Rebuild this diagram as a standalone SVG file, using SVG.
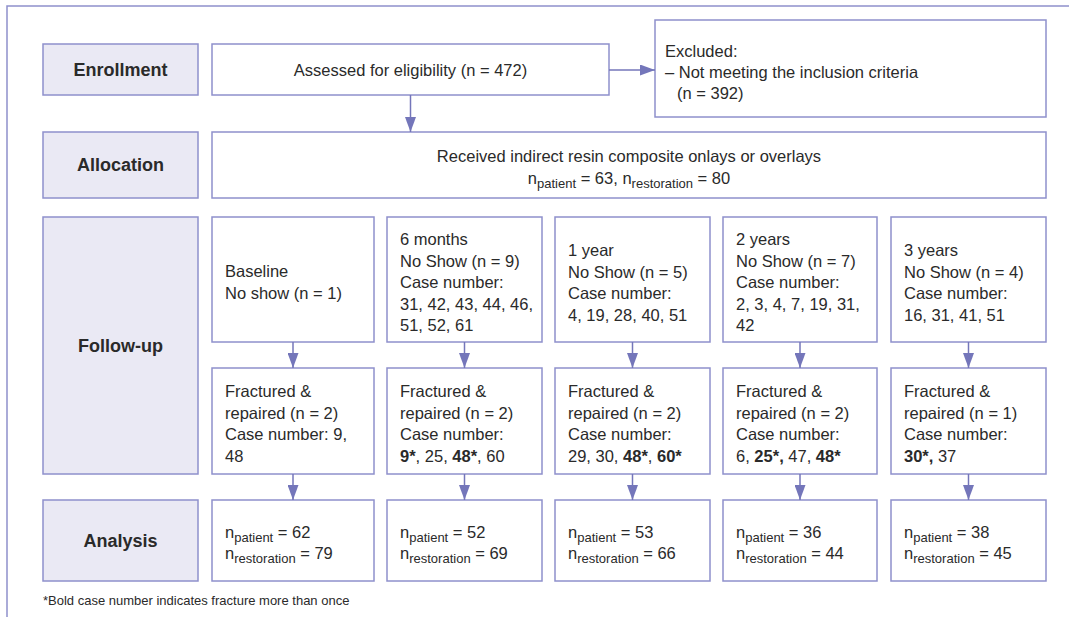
<svg xmlns="http://www.w3.org/2000/svg" width="1069" height="617" viewBox="0 0 1069 617">
<defs>
<style>
.frame{fill:none;stroke:#8e90cc;stroke-width:1.5}
.lab{fill:#eae9f4;stroke:#8e90cc;stroke-width:1.5}
.box{fill:#ffffff;stroke:#8e90cc;stroke-width:1.5}
.labt{font-family:"Liberation Sans",Arial,sans-serif;font-size:18px;font-weight:700;fill:#2a2a2a;text-anchor:middle}
.t{font-family:"Liberation Sans",Arial,sans-serif;font-size:16.5px;fill:#2a2a2a}
.c{text-anchor:middle}
.b{font-weight:700}
.sub{font-size:13px}
.foot{font-family:"Liberation Sans",Arial,sans-serif;font-size:13px;fill:#2a2a2a}
.conn{stroke:#7476ba;stroke-width:1.5;fill:none;marker-end:url(#ah)}
</style>
<marker id="ah" markerUnits="userSpaceOnUse" markerWidth="15" markerHeight="11" refX="15" refY="5.5" orient="auto">
<path d="M0,0 L15,5.5 L0,11 z" fill="#7476ba"/>
</marker>
</defs>
<rect width="1069" height="617" fill="#ffffff"/>
<path class="frame" d="M7,617 L7,6 L1069,6"/>

<g id="lab-enrollment"><rect class="lab" x="43" y="44" width="155" height="51"/><text class="labt" x="120.5" y="76">Enrollment</text></g>
<g id="lab-allocation"><rect class="lab" x="43" y="132" width="155" height="66"/><text class="labt" x="120.5" y="171">Allocation</text></g>
<g id="lab-followup"><rect class="lab" x="43" y="217" width="155" height="257"/><text class="labt" x="120.5" y="352">Follow-up</text></g>
<g id="lab-analysis"><rect class="lab" x="43" y="500" width="155" height="81"/><text class="labt" x="120.5" y="547">Analysis</text></g>

<g id="assessed"><rect class="box" x="212" y="44" width="397" height="51"/><text class="t c" x="410.5" y="76">Assessed for eligibility (n = 472)</text></g>
<g id="excluded"><rect class="box" x="655" y="20" width="391" height="97"/>
<text class="t" x="665" y="57">Excluded:</text>
<text class="t" x="665" y="78">– Not meeting the inclusion criteria</text>
<text class="t" x="677" y="99">(n = 392)</text></g>
<g id="allocation"><rect class="box" x="212" y="132" width="834" height="66"/>
<text class="t c" x="629" y="162">Received indirect resin composite onlays or overlays</text>
<text class="t c" x="629" y="184">n<tspan class="sub" dy="4">patient</tspan><tspan dy="-4"> = 63, n</tspan><tspan class="sub" dy="4">restoration</tspan><tspan dy="-4"> = 80</tspan></text></g>

<g id="fu-baseline"><rect class="box" x="212" y="217" width="162" height="125"/>
<text class="t" x="225" y="277">Baseline</text><text class="t" x="225" y="298.5">No show (n = 1)</text></g>
<g id="fu-6m"><rect class="box" x="387" y="217" width="155" height="125"/>
<text class="t" x="400" y="245">6 months</text><text class="t" x="400" y="266.5">No Show (n = 9)</text><text class="t" x="400" y="288">Case number:</text><text class="t" x="400" y="309.5">31, 42, 43, 44, 46,</text><text class="t" x="400" y="331">51, 52, 61</text></g>
<g id="fu-1y"><rect class="box" x="555" y="217" width="155" height="125"/>
<text class="t" x="568" y="256">1 year</text><text class="t" x="568" y="277.5">No Show (n = 5)</text><text class="t" x="568" y="299">Case number:</text><text class="t" x="568" y="320.5">4, 19, 28, 40, 51</text></g>
<g id="fu-2y"><rect class="box" x="723" y="217" width="154" height="125"/>
<text class="t" x="736" y="245">2 years</text><text class="t" x="736" y="266.5">No Show (n = 7)</text><text class="t" x="736" y="288">Case number:</text><text class="t" x="736" y="309.5">2, 3, 4, 7, 19, 31,</text><text class="t" x="736" y="331">42</text></g>
<g id="fu-3y"><rect class="box" x="891" y="217" width="155" height="125"/>
<text class="t" x="904" y="256">3 years</text><text class="t" x="904" y="277.5">No Show (n = 4)</text><text class="t" x="904" y="299">Case number:</text><text class="t" x="904" y="320.5">16, 31, 41, 51</text></g>

<g id="fr-baseline"><rect class="box" x="212" y="368" width="162" height="106"/>
<text class="t" x="225" y="397">Fractured &amp;</text><text class="t" x="225" y="418.5">repaired (n = 2)</text><text class="t" x="225" y="440">Case number: 9,</text><text class="t" x="225" y="461.5">48</text></g>
<g id="fr-6m"><rect class="box" x="387" y="368" width="155" height="106"/>
<text class="t" x="400" y="397">Fractured &amp;</text><text class="t" x="400" y="418.5">repaired (n = 2)</text><text class="t" x="400" y="440">Case number:</text><text class="t" x="400" y="461.5"><tspan class="b">9*</tspan>, 25, <tspan class="b">48*</tspan>, 60</text></g>
<g id="fr-1y"><rect class="box" x="555" y="368" width="155" height="106"/>
<text class="t" x="568" y="397">Fractured &amp;</text><text class="t" x="568" y="418.5">repaired (n = 2)</text><text class="t" x="568" y="440">Case number:</text><text class="t" x="568" y="461.5">29, 30, <tspan class="b">48*</tspan>, <tspan class="b">60*</tspan></text></g>
<g id="fr-2y"><rect class="box" x="723" y="368" width="154" height="106"/>
<text class="t" x="736" y="397">Fractured &amp;</text><text class="t" x="736" y="418.5">repaired (n = 2)</text><text class="t" x="736" y="440">Case number:</text><text class="t" x="736" y="461.5">6, <tspan class="b">25*,</tspan> 47, <tspan class="b">48*</tspan></text></g>
<g id="fr-3y"><rect class="box" x="891" y="368" width="155" height="106"/>
<text class="t" x="904" y="397">Fractured &amp;</text><text class="t" x="904" y="418.5">repaired (n = 1)</text><text class="t" x="904" y="440">Case number:</text><text class="t" x="904" y="461.5"><tspan class="b">30*,</tspan> 37</text></g>

<g id="an-baseline"><rect class="box" x="212" y="500" width="162" height="81"/>
<text class="t" x="225" y="537.5">n<tspan class="sub" dy="4">patient</tspan><tspan dy="-4"> = 62</tspan></text><text class="t" x="225" y="558.5">n<tspan class="sub" dy="4">restoration</tspan><tspan dy="-4"> = 79</tspan></text></g>
<g id="an-6m"><rect class="box" x="387" y="500" width="155" height="81"/>
<text class="t" x="400" y="537.5">n<tspan class="sub" dy="4">patient</tspan><tspan dy="-4"> = 52</tspan></text><text class="t" x="400" y="558.5">n<tspan class="sub" dy="4">restoration</tspan><tspan dy="-4"> = 69</tspan></text></g>
<g id="an-1y"><rect class="box" x="555" y="500" width="155" height="81"/>
<text class="t" x="568" y="537.5">n<tspan class="sub" dy="4">patient</tspan><tspan dy="-4"> = 53</tspan></text><text class="t" x="568" y="558.5">n<tspan class="sub" dy="4">restoration</tspan><tspan dy="-4"> = 66</tspan></text></g>
<g id="an-2y"><rect class="box" x="723" y="500" width="154" height="81"/>
<text class="t" x="736" y="537.5">n<tspan class="sub" dy="4">patient</tspan><tspan dy="-4"> = 36</tspan></text><text class="t" x="736" y="558.5">n<tspan class="sub" dy="4">restoration</tspan><tspan dy="-4"> = 44</tspan></text></g>
<g id="an-3y"><rect class="box" x="891" y="500" width="155" height="81"/>
<text class="t" x="904" y="537.5">n<tspan class="sub" dy="4">patient</tspan><tspan dy="-4"> = 38</tspan></text><text class="t" x="904" y="558.5">n<tspan class="sub" dy="4">restoration</tspan><tspan dy="-4"> = 45</tspan></text></g>

<g id="connectors">
<line class="conn" x1="609" y1="70" x2="655" y2="70"/>
<line class="conn" x1="410.5" y1="95" x2="410.5" y2="132"/>
<line class="conn" x1="293" y1="342" x2="293" y2="368"/>
<line class="conn" x1="464.5" y1="342" x2="464.5" y2="368"/>
<line class="conn" x1="632.5" y1="342" x2="632.5" y2="368"/>
<line class="conn" x1="800" y1="342" x2="800" y2="368"/>
<line class="conn" x1="968.5" y1="342" x2="968.5" y2="368"/>
<line class="conn" x1="293" y1="474" x2="293" y2="500"/>
<line class="conn" x1="464.5" y1="474" x2="464.5" y2="500"/>
<line class="conn" x1="632.5" y1="474" x2="632.5" y2="500"/>
<line class="conn" x1="800" y1="474" x2="800" y2="500"/>
<line class="conn" x1="968.5" y1="474" x2="968.5" y2="500"/>
</g>

<text class="foot" x="43" y="605">*Bold case number indicates fracture more than once</text>
</svg>
